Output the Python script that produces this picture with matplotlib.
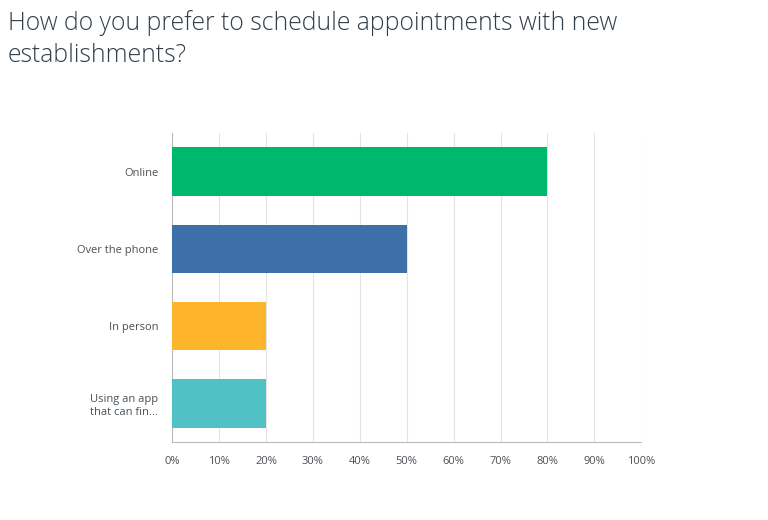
import matplotlib
matplotlib.use("Agg")
import matplotlib.pyplot as plt

categories = ["Online", "Over the phone", "In person", "Using an app\nthat can fin..."]
values = [80, 50, 20, 20]
colors = ["#00b86b", "#3d6fa9", "#ffb52b", "#50c2c6"]
xticks = [0, 10, 20, 30, 40, 50, 60, 70, 80, 90, 100]

plt.rcParams['font.family'] = ['Open Sans', 'DejaVu Sans']

fig = plt.figure(figsize=(7.68, 5.2), dpi=100)
ax = fig.add_axes([0.224, 0.150, 0.611, 0.594])

ypos = list(range(len(categories)))
ax.barh(ypos, values, height=0.63, color=colors, zorder=3)

ax.set_xlim(0, 100)
ax.set_ylim(3.5, -0.5)
ax.set_xticks(xticks)
ax.set_xticklabels([f"{t}%" for t in xticks])
ax.set_yticks(ypos)
ax.set_yticklabels(categories, ha="right", multialignment="right", linespacing=1.3)

ax.tick_params(axis="both", length=0, labelsize=8, colors="#4a5158")
ax.tick_params(axis="x", pad=10)
ax.tick_params(axis="y", pad=10)
ax.grid(axis="x", color="#e4e4e4", linewidth=0.8, zorder=0)
for s in ["top", "right"]:
    ax.spines[s].set_visible(False)
ax.spines["left"].set_color("#bbbbbb")
ax.spines["bottom"].set_color("#bbbbbb")

fig.text(0.010, 0.980, "How do you prefer to schedule appointments with new\nestablishments?",
         ha="left", va="top", fontsize=17.8, color="#333e48", fontweight="light",
         linespacing=1.35)

fig.savefig("out.png", dpi=100)
